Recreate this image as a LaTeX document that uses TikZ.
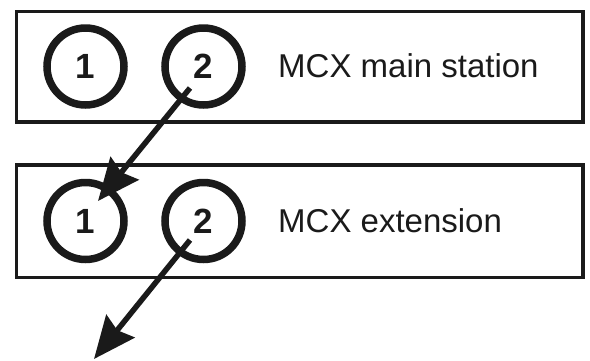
\documentclass[tikz,border=0pt]{standalone}
\usepackage{fontspec}
\setmainfont{Liberation Sans}
\usetikzlibrary{arrows.meta,calc}
\definecolor{ink}{HTML}{1A1A1A}
\begin{document}
\begin{tikzpicture}[x=1pt,y=-1pt,
  station/.style={draw=ink,line width=3.2pt},
  port/.style={circle,draw=ink,line width=7.5pt,minimum size=77pt,inner sep=0pt,
    font=\fontsize{35}{35}\selectfont\bfseries,text=ink},
  label/.style={anchor=base west,inner sep=0pt,font=\fontsize{33}{33}\selectfont,text=ink},
  link/.style={draw=ink,line width=5.5pt,-{Stealth[length=42pt,width=36pt,inset=5pt]}}]
\useasboundingbox (0,0) rectangle (590,360);
\draw[station] (16.5,11.5) rectangle (583,122);
\draw[station] (16.5,165) rectangle (583,277.5);
\node[port] (a1) at (85.5,66.5) {1};
\node[port] (a2) at (203.5,66.5) {2};
\node[port] (b1) at (85.5,221) {1};
\node[port] (b2) at (203.5,221) {2};
\node[label] (ta) at (278,77) {MCX main station};
\node[label] (tb) at (278,232) {MCX extension};
\coordinate (s1) at ($(a2)+(-13.5,21.5)$);
\coordinate (e1) at ($(b1)+(12.5,-20)$);
\coordinate (s2) at ($(b2)+(-13.5,19)$);
\coordinate (e2) at (94,359);
\path[link] (s1) -- (e1);
\path[link] (s2) -- (e2);
\end{tikzpicture}
\end{document}
